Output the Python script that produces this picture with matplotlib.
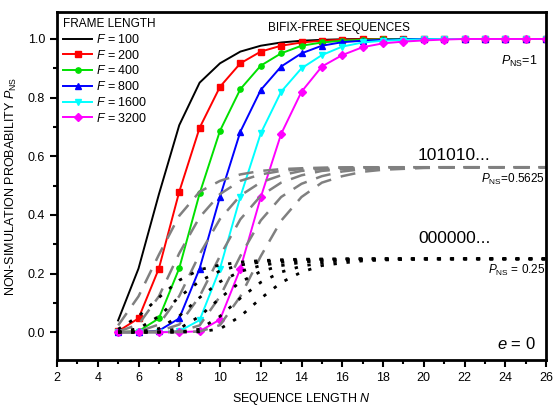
import numpy as np
import matplotlib.pyplot as plt
from matplotlib.ticker import MultipleLocator

plt.rcParams['font.family'] = ['Liberation Sans', 'DejaVu Sans']
plt.rcParams['mathtext.fontset'] = 'custom'
plt.rcParams['mathtext.it'] = 'Liberation Sans:italic'
plt.rcParams['mathtext.rm'] = 'Liberation Sans'

N = np.arange(5, 27)
FRAMES = [100, 200, 400, 800, 1600, 3200]
COLORS = ["black", "red", "#00e000", "blue", "cyan", "magenta"]
MARKERS = [None, "s", "o", "^", "v", "D"]

# bifix-free, all sequences
p_bf = [
    [0.040, 0.217, 0.470, 0.706, 0.851, 0.917, 0.957, 0.977, 0.988, 0.994, 0.997, 0.999, 1.0, 1.0, 1.0, 1.0, 1.0, 1.0, 1.0, 1.0, 1.0, 1.0],
    [0.003, 0.047, 0.217, 0.479, 0.697, 0.837, 0.917, 0.957, 0.977, 0.988, 0.994, 0.997, 0.999, 1.0, 1.0, 1.0, 1.0, 1.0, 1.0, 1.0, 1.0, 1.0],
    [0.000, 0.003, 0.047, 0.218, 0.473, 0.687, 0.829, 0.909, 0.951, 0.977, 0.988, 0.994, 0.997, 0.999, 1.0, 1.0, 1.0, 1.0, 1.0, 1.0, 1.0, 1.0],
    [0.000, 0.000, 0.005, 0.047, 0.217, 0.462, 0.684, 0.826, 0.906, 0.951, 0.977, 0.989, 0.994, 0.997, 0.999, 1.0, 1.0, 1.0, 1.0, 1.0, 1.0, 1.0],
    [0.000, 0.000, 0.000, 0.003, 0.041, 0.217, 0.462, 0.678, 0.820, 0.900, 0.945, 0.974, 0.988, 0.994, 0.997, 0.999, 1.0, 1.0, 1.0, 1.0, 1.0, 1.0],
    [0.000, 0.000, 0.000, 0.000, 0.003, 0.043, 0.217, 0.460, 0.676, 0.820, 0.906, 0.945, 0.972, 0.985, 0.991, 0.995, 0.998, 1.0, 1.0, 1.0, 1.0, 1.0],
]
# 101010... pattern
p_alt = [
    [0.023, 0.122, 0.264, 0.397, 0.479, 0.516, 0.538, 0.550, 0.556, 0.559, 0.561, 0.562, 0.5625, 0.5625, 0.5625, 0.5625, 0.5625, 0.5625, 0.5625, 0.5625, 0.5625, 0.5625],
    [0.002, 0.026, 0.122, 0.269, 0.392, 0.471, 0.516, 0.538, 0.550, 0.556, 0.559, 0.561, 0.562, 0.5625, 0.5625, 0.5625, 0.5625, 0.5625, 0.5625, 0.5625, 0.5625, 0.5625],
    [0.000, 0.002, 0.026, 0.123, 0.266, 0.386, 0.466, 0.511, 0.535, 0.550, 0.556, 0.559, 0.561, 0.562, 0.5625, 0.5625, 0.5625, 0.5625, 0.5625, 0.5625, 0.5625, 0.5625],
    [0.000, 0.000, 0.003, 0.026, 0.122, 0.260, 0.385, 0.465, 0.510, 0.535, 0.550, 0.556, 0.559, 0.561, 0.562, 0.5625, 0.5625, 0.5625, 0.5625, 0.5625, 0.5625, 0.5625],
    [0.000, 0.000, 0.000, 0.002, 0.023, 0.122, 0.260, 0.381, 0.461, 0.506, 0.532, 0.548, 0.556, 0.559, 0.561, 0.562, 0.5625, 0.5625, 0.5625, 0.5625, 0.5625, 0.5625],
    [0.000, 0.000, 0.000, 0.000, 0.002, 0.024, 0.122, 0.259, 0.380, 0.461, 0.510, 0.532, 0.547, 0.554, 0.557, 0.560, 0.561, 0.5625, 0.5625, 0.5625, 0.5625, 0.5625],
]
# 000000... pattern
p_zero = [
    [0.010, 0.054, 0.118, 0.177, 0.213, 0.229, 0.239, 0.244, 0.247, 0.249, 0.249, 0.25, 0.25, 0.25, 0.25, 0.25, 0.25, 0.25, 0.25, 0.25, 0.25, 0.25],
    [0.001, 0.012, 0.054, 0.120, 0.174, 0.209, 0.229, 0.239, 0.244, 0.247, 0.249, 0.249, 0.25, 0.25, 0.25, 0.25, 0.25, 0.25, 0.25, 0.25, 0.25, 0.25],
    [0.000, 0.001, 0.012, 0.055, 0.118, 0.172, 0.207, 0.227, 0.238, 0.244, 0.247, 0.249, 0.249, 0.25, 0.25, 0.25, 0.25, 0.25, 0.25, 0.25, 0.25, 0.25],
    [0.000, 0.000, 0.001, 0.012, 0.054, 0.116, 0.171, 0.207, 0.227, 0.238, 0.244, 0.247, 0.249, 0.249, 0.25, 0.25, 0.25, 0.25, 0.25, 0.25, 0.25, 0.25],
    [0.000, 0.000, 0.000, 0.001, 0.010, 0.054, 0.116, 0.170, 0.205, 0.225, 0.236, 0.244, 0.247, 0.249, 0.249, 0.25, 0.25, 0.25, 0.25, 0.25, 0.25, 0.25],
    [0.000, 0.000, 0.000, 0.000, 0.001, 0.011, 0.054, 0.115, 0.169, 0.205, 0.227, 0.236, 0.243, 0.246, 0.248, 0.249, 0.25, 0.25, 0.25, 0.25, 0.25, 0.25],
]

fig = plt.figure(figsize=(5.53, 4.07), dpi=100)
ax = fig.add_axes([57/553, 1-360/407, 489/553, 348/407])

for i in range(len(FRAMES)):
    ax.plot(N, p_bf[i], color=COLORS[i], marker=MARKERS[i], markersize=3.8,
            lw=1.4, label="$F$ = %d" % FRAMES[i])
for i in range(len(FRAMES)):
    ax.plot(N, p_alt[i], color="gray", lw=1.8, dashes=(6, 4))
for i in range(len(FRAMES)):
    ax.plot(N, p_zero[i], color="black", lw=2, dashes=(1.2, 3.5))

ax.set_xlim(2, 26)
ax.set_ylim(-0.095, 1.092)
ax.xaxis.set_major_locator(MultipleLocator(2))
ax.xaxis.set_minor_locator(MultipleLocator(1))
ax.yaxis.set_major_locator(MultipleLocator(0.2))
ax.yaxis.set_minor_locator(MultipleLocator(0.1))
ax.yaxis.set_major_formatter(plt.FormatStrFormatter('%.1f'))
ax.tick_params(which='both', direction='out', width=1.5, labelsize=9)
ax.tick_params(which='major', length=5)
ax.tick_params(which='minor', length=3)
for s in ax.spines.values():
    s.set_linewidth(2)

ax.set_xlabel("SEQUENCE LENGTH $N$", fontsize=9, labelpad=5)
ax.set_ylabel("NON-SIMULATION PROBABILITY $P_{\\rm NS}$", fontsize=9, labelpad=6)

leg = ax.legend(loc='upper left', title="FRAME LENGTH", frameon=False, fontsize=9,
                title_fontsize=8.5, handlelength=2.3, borderaxespad=0.3,
                labelspacing=0.22, borderpad=0.2, handletextpad=0.3)
leg._legend_box.align = "left"

ax.text(0.431, 0.945, "BIFIX-FREE SEQUENCES", transform=ax.transAxes, fontsize=8.5)
ax.text(25.6, 0.925, "$P_{\\rm NS}$=1", fontsize=9, ha='right', va='center')
ax.text(21.5, 0.604, "101010...", fontsize=12.5, ha='center', va='center')
ax.text(25.95, 0.52, "$P_{\\rm NS}$=0.5625", fontsize=8.5, ha='right', va='center')
ax.text(21.5, 0.32, "000000...", fontsize=12.5, ha='center', va='center')
ax.text(25.95, 0.21, "$P_{\\rm NS}$ = 0.25", fontsize=8.5, ha='right', va='center')
ax.text(25.5, -0.04, "$e$ = 0", fontsize=12, ha='right', va='center')

fig.savefig("out.png", dpi=100)
